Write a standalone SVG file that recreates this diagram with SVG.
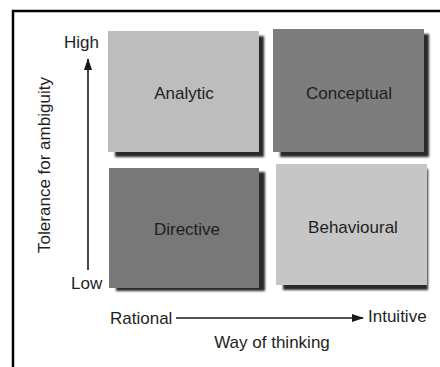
<svg xmlns="http://www.w3.org/2000/svg" width="440" height="367" viewBox="0 0 440 367">
<defs>
<style>
.t{font-family:"Liberation Sans",Arial,sans-serif;font-size:17px;fill:#1e1e1e}
.c{text-anchor:middle}
.sh{fill:#2a2a2a;filter:url(#blur)}
.ax{stroke:#1a1a1a;stroke-width:1.6;fill:none}
</style>
<filter id="blur" x="-10%" y="-10%" width="120%" height="120%"><feGaussianBlur stdDeviation="1"/></filter>
<marker id="ah" viewBox="0 0 12 8" refX="11" refY="4" markerWidth="12" markerHeight="8" markerUnits="userSpaceOnUse" orient="auto"><path d="M0,0 L12,4 L0,8 Z" fill="#1a1a1a"/></marker>
</defs>
<rect width="440" height="367" fill="#fff"/>
<path d="M13,367 V11 H440" fill="none" stroke="#000" stroke-width="2.5"/>
<g id="analytic">
<rect class="sh" x="115" y="36" width="149" height="121"/>
<rect x="108" y="31" width="151" height="121" fill="#bdbdbd"/>
<text class="t c" x="184" y="99">Analytic</text>
</g>
<g id="conceptual">
<rect class="sh" x="280" y="34" width="149" height="123"/>
<rect x="273" y="29" width="151" height="123" fill="#7d7d7d"/>
<text class="t c" x="349" y="99">Conceptual</text>
</g>
<g id="directive">
<rect class="sh" x="116" y="172" width="149" height="119"/>
<rect x="109" y="168" width="150" height="120" fill="#787878"/>
<text class="t c" x="187" y="235">Directive</text>
</g>
<g id="behavioural">
<rect class="sh" x="283" y="169" width="145" height="121"/>
<rect x="276" y="164" width="151" height="121" fill="#c6c6c6"/>
<text class="t c" x="353" y="233">Behavioural</text>
</g>
<g id="connectors">
<line class="ax" x1="88" y1="270" x2="88" y2="59" marker-end="url(#ah)"/>
<line class="ax" x1="176" y1="318" x2="363" y2="318" marker-end="url(#ah)"/>
</g>
<g id="labels">
<text class="t" x="64" y="48">High</text>
<text class="t" x="71" y="289">Low</text>
<text class="t" x="110" y="324">Rational</text>
<text class="t" x="368" y="322">Intuitive</text>
<text class="t c" x="272" y="348">Way of thinking</text>
<text class="t c" transform="translate(50,165) rotate(-90)" x="0" y="0">Tolerance for ambiguity</text>
</g>
</svg>
